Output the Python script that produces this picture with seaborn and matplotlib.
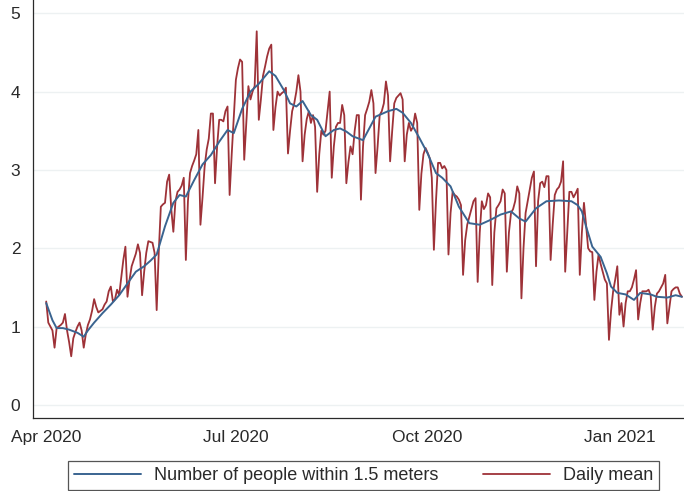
import numpy as np
import pandas as pd
import seaborn as sns
import matplotlib.pyplot as plt
from matplotlib.lines import Line2D

# Daily mean (Apr 2020 - Jan 2021)
apr_2020 = [1.32, 1.05, 1.00, 0.95, 0.73, 0.98, 1.00, 1.02, 1.05, 1.16,
            0.95, 0.80, 0.62, 0.85, 0.93, 1.00, 1.05, 0.95, 0.73, 0.90,
            1.02, 1.09, 1.20, 1.35, 1.25, 1.18, 1.20, 1.22, 1.28, 1.32]
may_2020 = [1.45, 1.51, 1.32, 1.35, 1.47, 1.40, 1.62, 1.85, 2.02, 1.38,
            1.60, 1.77, 1.85, 1.93, 2.05, 1.94, 1.40, 1.70, 1.94, 2.09,
            2.08, 2.07, 1.94, 1.21, 1.95, 2.53, 2.56, 2.58, 2.85, 2.94, 2.50]
jun_2020 = [2.21, 2.60, 2.72, 2.75, 2.80, 2.90, 1.85, 2.60, 2.96, 3.05,
            3.12, 3.20, 3.51, 2.30, 2.65, 3.04, 3.26, 3.40, 3.72, 3.72,
            2.83, 3.30, 3.64, 3.64, 3.62, 3.75, 3.81, 2.68, 3.20, 3.68]
jul_2020 = [4.15, 4.30, 4.41, 4.38, 3.13, 3.60, 4.07, 3.90, 4.00, 4.07,
            4.77, 3.64, 3.90, 4.20, 4.32, 4.45, 4.55, 4.60, 3.51, 3.80,
            4.00, 3.95, 3.98, 4.00, 4.05, 3.21, 3.50, 3.75, 3.85, 4.00, 4.21]
aug_2020 = [4.00, 3.11, 3.45, 3.65, 3.75, 3.60, 3.70, 3.55, 2.72, 3.20,
            3.50, 3.45, 3.50, 3.75, 4.00, 2.90, 3.30, 3.55, 3.60, 3.60,
            3.83, 3.70, 2.83, 3.10, 3.30, 3.20, 3.50, 3.70, 3.70, 2.62, 3.30]
sep_2020 = [3.70, 3.78, 3.87, 4.02, 3.85, 2.96, 3.30, 3.70, 3.75, 3.85,
            4.13, 3.95, 3.11, 3.50, 3.85, 3.92, 3.95, 3.98, 3.90, 3.11,
            3.45, 3.60, 3.50, 3.55, 3.72, 3.60, 2.49, 2.95, 3.20, 3.28]
oct_2020 = [3.22, 3.15, 2.90, 1.98, 2.60, 3.09, 3.09, 3.02, 3.05, 3.00,
            1.92, 2.45, 2.72, 2.68, 2.66, 2.62, 2.55, 1.66, 2.10, 2.30,
            2.40, 2.50, 2.60, 2.64, 1.57, 2.20, 2.60, 2.50, 2.55, 2.70, 2.65]
nov_2020 = [1.53, 2.20, 2.51, 2.55, 2.60, 2.75, 2.70, 1.70, 2.20, 2.45,
            2.50, 2.60, 2.79, 2.70, 1.36, 2.00, 2.45, 2.60, 2.75, 2.90,
            2.98, 1.77, 2.60, 2.83, 2.85, 2.78, 2.92, 2.92, 1.85, 2.30]
dec_2020 = [2.68, 2.75, 2.78, 2.85, 3.11, 1.70, 2.20, 2.72, 2.72, 2.65,
            2.70, 2.76, 1.66, 2.20, 2.58, 2.30, 2.00, 1.96, 1.95, 1.34,
            1.70, 1.92, 1.80, 1.70, 1.60, 1.55, 0.83, 1.20, 1.45, 1.60, 1.77]
jan_2021 = [1.15, 1.30, 1.00, 1.30, 1.45, 1.45, 1.50, 1.60, 1.72, 1.09,
            1.30, 1.45, 1.45, 1.45, 1.47, 1.40, 0.96, 1.25, 1.42, 1.45,
            1.50, 1.55, 1.66, 1.04, 1.25, 1.45, 1.48, 1.50, 1.50, 1.42, 1.38]

# Smoothed series (blue), read at a few dates
near_dates = ["2020-04-01", "2020-04-04", "2020-04-06", "2020-04-09", "2020-04-12",
              "2020-04-16", "2020-04-19", "2020-04-21", "2020-04-24", "2020-04-28",
              "2020-05-02", "2020-05-06", "2020-05-10", "2020-05-14", "2020-05-18",
              "2020-05-21", "2020-05-24", "2020-05-28", "2020-06-01", "2020-06-04",
              "2020-06-07", "2020-06-11", "2020-06-15", "2020-06-19", "2020-06-23",
              "2020-06-27", "2020-06-30", "2020-07-04", "2020-07-08", "2020-07-12",
              "2020-07-17", "2020-07-20", "2020-07-24", "2020-07-27", "2020-07-30",
              "2020-08-02", "2020-08-06", "2020-08-09", "2020-08-13", "2020-08-17",
              "2020-08-20", "2020-08-23", "2020-08-26", "2020-08-31", "2020-09-06",
              "2020-09-12", "2020-09-16", "2020-09-19", "2020-09-23", "2020-09-27",
              "2020-10-01", "2020-10-05", "2020-10-08", "2020-10-12", "2020-10-16",
              "2020-10-21", "2020-10-26", "2020-10-31", "2020-11-05", "2020-11-10",
              "2020-11-14", "2020-11-17", "2020-11-22", "2020-11-27", "2020-12-03",
              "2020-12-09", "2020-12-12", "2020-12-14", "2020-12-16", "2020-12-19",
              "2020-12-23", "2020-12-26", "2020-12-28", "2020-12-31", "2021-01-04",
              "2021-01-08", "2021-01-11", "2021-01-16", "2021-01-19", "2021-01-24",
              "2021-01-28", "2021-01-31"]
near_values = [1.30, 1.08, 0.98, 0.98, 0.96, 0.92, 0.87, 0.95, 1.05, 1.17,
               1.28, 1.40, 1.55, 1.70, 1.77, 1.84, 1.92, 2.28, 2.58, 2.68,
               2.66, 2.87, 3.07, 3.19, 3.36, 3.51, 3.47, 3.78, 4.00, 4.10,
               4.26, 4.20, 4.02, 3.85, 3.81, 3.88, 3.70, 3.64, 3.43, 3.51,
               3.53, 3.49, 3.43, 3.38, 3.68, 3.75, 3.78, 3.73, 3.60, 3.41,
               3.21, 2.96, 2.90, 2.79, 2.53, 2.32, 2.30, 2.36, 2.43, 2.47,
               2.38, 2.34, 2.51, 2.60, 2.61, 2.60, 2.55, 2.47, 2.28, 2.02,
               1.89, 1.68, 1.51, 1.43, 1.41, 1.34, 1.43, 1.41, 1.38, 1.37,
               1.40, 1.38]

tick_dates = ["2020-04-01", "2020-07-01", "2020-10-01", "2021-01-01"]
tick_labels = ["Apr 2020", "Jul 2020", "Oct 2020", "Jan 2021"]

BLUE = "#3a6490"
RED = "#9e3238"
INK = "#2a2a2a"

daily_mean = (apr_2020 + may_2020 + jun_2020 + jul_2020 + aug_2020
              + sep_2020 + oct_2020 + nov_2020 + dec_2020 + jan_2021)
df_daily = pd.DataFrame({
    "date": pd.date_range("2020-04-01", periods=len(daily_mean), freq="D"),
    "value": daily_mean,
})
df_near = pd.DataFrame({"date": pd.to_datetime(near_dates), "value": near_values})

sns.set_style("white")
plt.rcParams["font.family"] = ["Liberation Sans", "DejaVu Sans"]

fig = plt.figure(figsize=(6.84, 4.91), dpi=100)
ax = fig.add_axes([0.048, 0.149, 0.952, 0.851])

sns.lineplot(data=df_daily, x="date", y="value", color=RED, lw=1.3, ax=ax, zorder=3)
sns.lineplot(data=df_near, x="date", y="value", color=BLUE, lw=1.4, ax=ax, zorder=4)

ax.set_xlim(pd.Timestamp("2020-03-25 14:00"), pd.Timestamp("2021-02-01"))
ax.set_ylim(-0.166, 5.17)
ax.set_yticks([0, 1, 2, 3, 4, 5])
ax.set_xticks(pd.to_datetime(tick_dates))
ax.set_xticklabels(tick_labels)
ax.set_xlabel("")
ax.set_ylabel("")

ax.yaxis.grid(True, color="#edf1f2", lw=1.0)
ax.set_axisbelow(True)
for side in ["top", "right"]:
    ax.spines[side].set_visible(False)
for side in ["left", "bottom"]:
    ax.spines[side].set_color(INK)
    ax.spines[side].set_linewidth(0.9)
ax.tick_params(axis="both", direction="out", length=5, width=0.9,
               color=INK, labelsize=12.5, labelcolor=INK)
ax.tick_params(axis="x", pad=4)
ax.tick_params(axis="y", pad=4)

handles = [Line2D([], [], color=BLUE, lw=1.4), Line2D([], [], color=RED, lw=1.3)]
labels = ["Number of people within 1.5 meters", "Daily mean"]
leg = fig.legend(handles, labels, loc="center", bbox_to_anchor=(363.8 / 684, 1 - 475.5 / 491),
                 ncol=2, frameon=True, fancybox=False, edgecolor=INK,
                 fontsize=13, handlelength=3.66, handletextpad=0.74, columnspacing=2.5,
                 borderpad=0.35)
leg.get_frame().set_linewidth(0.9)
for t in leg.get_texts():
    t.set_color(INK)

fig.savefig("out.png", dpi=100)
